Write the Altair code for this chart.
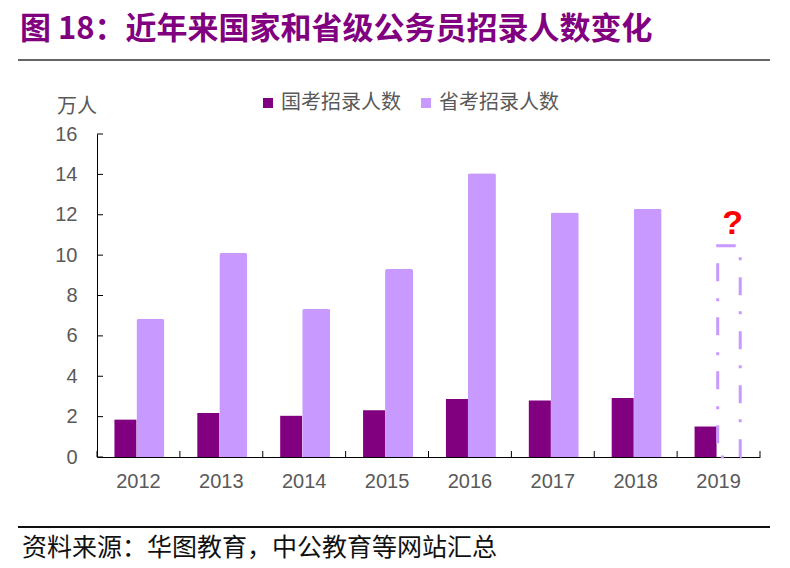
import altair as alt
import pandas as pd

# ---- data ----
years = ["2012", "2013", "2014", "2015", "2016", "2017", "2018", "2019"]
national = [1.85, 2.18, 2.04, 2.31, 2.87, 2.80, 2.92, 1.51]
provincial = [6.83, 10.10, 7.33, 9.31, 14.06, 12.11, 12.29, None]
series_names = ["国考招录人数", "省考招录人数"]
series_colors = ["#800080", "#C899FF"]
estimate_years = ["2019"]
estimate_values = [10.46]
y_tick_values = [0, 2, 4, 6, 8, 10, 12, 14, 16]
title_text = "图 18：近年来国家和省级公务员招录人数变化"
source_text = "资料来源：华图教育，中公教育等网站汇总"
unit_text = "万人"

W, H = 663, 323
GREY = "#595959"
NUM_FONT = "Liberation Sans"
CJK_FONT = "Noto Sans CJK SC"

nat_df = pd.DataFrame({"year": years, "series": series_names[0], "value": national})
prov_df = pd.DataFrame({"year": years, "series": series_names[1], "value": provincial}).dropna()
est_df = pd.DataFrame({"year": estimate_years, "value": estimate_values})
ytick_df = pd.DataFrame({"value": y_tick_values})
xtick_df = pd.DataFrame({"year": years})
xend_df = pd.DataFrame({"year": years[-1:]})

x_scale = alt.Scale(domain=years, paddingInner=0, paddingOuter=0)
y_scale = alt.Scale(domain=[0, 16], nice=False, zero=True)
color_scale = alt.Scale(domain=series_names, range=series_colors)

x_axis = alt.Axis(title=None, labelAngle=0, ticks=False, domain=True, domainColor="#000000",
                  domainWidth=1, labelFont=NUM_FONT, labelFontSize=20, labelColor=GREY,
                  labelPadding=14, grid=False)
y_axis = alt.Axis(title=None, values=y_tick_values, ticks=False, grid=False, domain=True,
                  domainColor="#000000", domainWidth=1, labelFont=NUM_FONT, labelFontSize=20,
                  labelColor=GREY, labelPadding=20)

legend = alt.Legend(title=None, orient="none", legendX=161, legendY=-41, direction="horizontal",
                    symbolType="square", symbolSize=100, symbolStrokeWidth=0,
                    labelFont=CJK_FONT, labelFontSize=20, labelColor=GREY, labelOffset=3,
                    columnPadding=15, labelLimit=300)

X = lambda **kw: alt.X("year:N", scale=x_scale, sort=years, axis=x_axis, **kw)
Y = lambda: alt.Y("value:Q", scale=y_scale, axis=y_axis)

dark = alt.Chart(nat_df).mark_bar(width=22, xOffset=-13).encode(
    x=X(), y=Y(),
    color=alt.Color("series:N", scale=color_scale, legend=legend),
)

light = alt.Chart(prov_df).mark_bar(width=28, xOffset=12, cornerRadiusTopLeft=2,
                                     cornerRadiusTopRight=2).encode(
    x=X(), y=Y(),
    color=alt.Color("series:N", scale=color_scale, legend=legend),
)

outline = alt.Chart(est_df).mark_bar(width=22.5, xOffset=10.4, fill="#ffffff", fillOpacity=0,
                                      stroke=series_colors[1], strokeWidth=3,
                                      strokeDash=[18, 16, 3, 17]).encode(x=X(), y=Y())

qmark = alt.Chart(est_df).mark_text(text="?", color="#FF0000", fontSize=34, fontWeight="bold",
                                     font=NUM_FONT, baseline="alphabetic", align="center",
                                     xOffset=14, dy=-12).encode(x=X(), y=Y())

yticks = alt.Chart(ytick_df).mark_rule(color="#000000", strokeWidth=1).encode(
    y=Y(), x=alt.value(0), x2=alt.value(6))

xticks = alt.Chart(xtick_df).mark_rule(color="#000000", strokeWidth=1).encode(
    x=X(bandPosition=0), y=alt.value(H), y2=alt.value(H - 6))
xend = alt.Chart(xend_df).mark_rule(color="#000000", strokeWidth=1).encode(
    x=X(bandPosition=1), y=alt.value(H), y2=alt.value(H - 6))

unit = alt.Chart(pd.DataFrame({"t": [unit_text]})).mark_text(
    font=CJK_FONT, fontSize=20, color=GREY, align="center", baseline="middle").encode(
    x=alt.value(-20), y=alt.value(-27), text="t:N")

title = alt.Chart(pd.DataFrame({"t": [title_text]})).mark_text(
    font=CJK_FONT, fontSize=31, fontWeight="bold", color="#800080", align="left",
    baseline="middle").encode(x=alt.value(-77), y=alt.value(-104), text="t:N")

top_line = alt.Chart(pd.DataFrame({"a": [0]})).mark_rule(color="#333333", strokeWidth=1.5).encode(
    x=alt.value(-79), x2=alt.value(673), y=alt.value(-74))

bottom_line = alt.Chart(pd.DataFrame({"a": [0]})).mark_rule(color="#111111", strokeWidth=2).encode(
    x=alt.value(-79), x2=alt.value(673), y=alt.value(393))

source = alt.Chart(pd.DataFrame({"t": [source_text]})).mark_text(
    font=CJK_FONT, fontSize=25, color="#111111", align="left", baseline="middle").encode(
    x=alt.value(-75), y=alt.value(414), text="t:N")

chart = alt.layer(
    dark, light, outline, qmark, yticks, xticks, xend, unit, title, top_line, bottom_line, source
).properties(
    width=W, height=H,
    padding={"left": 97, "top": 134, "right": 30, "bottom": 111},
    autosize=alt.AutoSizeParams(type="none"),
    background="#ffffff",
).configure_view(stroke=None)

chart.save("out.html", embed_options={"renderer": "svg", "actions": False})
